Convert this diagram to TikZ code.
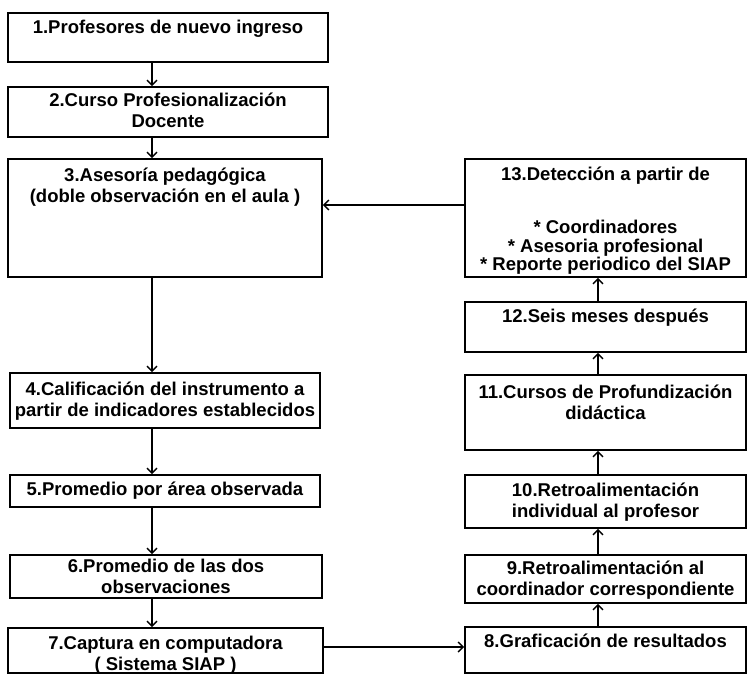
\documentclass[tikz,border=0pt]{standalone}
\usepackage{fontspec}
\setmainfont{Liberation Sans}
\usetikzlibrary{arrows.meta,fit}
\begin{document}
\begin{tikzpicture}[x=1pt,y=-1pt,
  box/.style={draw, line width=1.8pt, inner sep=0pt, rectangle},
  txt/.style={anchor=north, inner sep=0pt, align=center, font=\fontsize{18.5}{21}\selectfont\bfseries},
  arr/.style={line width=1.4pt, -{Straight Barb[length=5pt,width=10pt,line width=1.4pt]}}]
\useasboundingbox (0,0) rectangle (748,675);
% left column
\node[box, fit={(8,13)(328,62)}] (b1) {};
\node[box, fit={(8,87)(328,137)}] (b2) {};
\node[box, fit={(8,159)(322,277)}] (b3) {};
\node[box, fit={(10,373)(320,428)}] (b4) {};
\node[box, fit={(10,475)(320,507)}] (b5) {};
\node[box, fit={(10,555)(322,598)}] (b6) {};
\node[box, fit={(8,628)(323,673)}] (b7) {};
% right column
\node[box, fit={(465,159)(746,277)}] (b13) {};
\node[box, fit={(465,302)(746,352)}] (b12) {};
\node[box, fit={(465,375)(746,450)}] (b11) {};
\node[box, fit={(465,475)(746,528)}] (b10) {};
\node[box, fit={(465,555)(746,603)}] (b9) {};
\node[box, fit={(465,627)(746,673)}] (b8) {};
% texts
\node[txt] (t1) at ([yshift=-8pt]b1.north) {1.Profesores de nuevo ingreso};
\node[txt] (t2) at ([yshift=-7pt]b2.north) {2.Curso Profesionalización\\Docente};
\node[txt] (t3) at ([yshift=-10pt]b3.north) {3.Asesoría pedagógica\\(doble observación en el aula )};
\node[txt] (t4) at ([yshift=-10pt]b4.north) {4.Calificación del instrumento a\\partir de indicadores establecidos};
\node[txt] (t5) at ([yshift=-8pt]b5.north) {5.Promedio por área observada};
\node[txt] (t6) at ([yshift=-5pt]b6.north) {6.Promedio de las dos\\observaciones};
\node[txt] (t7) at ([yshift=-9pt]b7.north) {7.Captura en computadora\\( Sistema SIAP )};
\node[txt] (t13) at ([yshift=-9pt]b13.north) {13.Detección a partir de};
\node[txt, anchor=south, font=\fontsize{18.5}{18.5}\selectfont\bfseries] (t13b) at ([yshift=3pt]b13.south) {* Coordinadores\\* Asesoria profesional\\* Reporte periodico del SIAP};
\node[txt] (t12) at ([yshift=-8pt]b12.north) {12.Seis meses después};
\node[txt] (t11) at ([yshift=-11pt]b11.north) {11.Cursos de Profundización\\didáctica};
\node[txt] (t10) at ([yshift=-9pt]b10.north) {10.Retroalimentación\\individual al profesor};
\node[txt] (t9) at ([yshift=-7pt]b9.north) {9.Retroalimentación al\\coordinador correspondiente};
\node[txt] (t8) at ([yshift=-8pt]b8.north) {8.Graficación de resultados};
% connectors
\coordinate (lx) at (152,0);
\coordinate (rx) at (598,0);
\draw[arr] (b1.south -| lx) -- (b2.north -| lx);
\draw[arr] (b2.south -| lx) -- (b3.north -| lx);
\draw[arr] (b3.south -| lx) -- (b4.north -| lx);
\draw[arr] (b4.south -| lx) -- (b5.north -| lx);
\draw[arr] (b5.south -| lx) -- (b6.north -| lx);
\draw[arr] (b6.south -| lx) -- (b7.north -| lx);
\draw[arr] (b8.north -| rx) -- (b9.south -| rx);
\draw[arr] (b9.north -| rx) -- (b10.south -| rx);
\draw[arr] (b10.north -| rx) -- (b11.south -| rx);
\draw[arr] (b11.north -| rx) -- (b12.south -| rx);
\draw[arr] (b12.north -| rx) -- (b13.south -| rx);
\coordinate (h1) at (0,205);
\coordinate (h2) at (0,647);
\draw[arr] (b13.west |- h1) -- (b3.east |- h1);
\draw[arr] (b7.east |- h2) -- (b8.west |- h2);
\end{tikzpicture}
\end{document}
